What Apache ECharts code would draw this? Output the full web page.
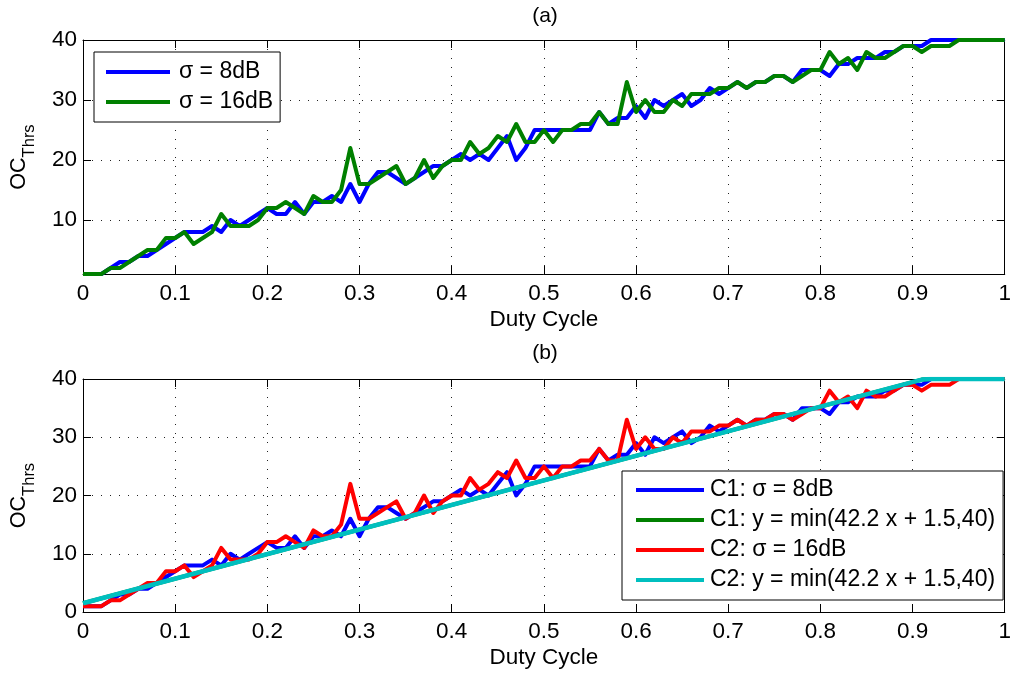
<!DOCTYPE html>
<html>
<head>
<meta charset="utf-8">
<script src="https://cdn.jsdelivr.net/npm/echarts@6/dist/echarts.min.js"></script>
<style>
html,body{margin:0;padding:0;background:#fff;}
#c{width:1014px;height:673px;}
</style>
</head>
<body>
<div id="c"></div>
<script>
// ---- data ----
var duty = [];
for (var i = 0; i <= 100; i++) duty.push(i / 100);

var sigma8 = [1,1,1,2,3,3,4,4,5,6,
  7,8,8,8,9,8,10,9,10,11,
  12,11,11,13,11,13,13,14,13,16,
  13,16,18,18,17,16,17,18,19,19,
  20,21,20,21,20,22,24,20,22,25,
  25,25,25,25,25,25,28,26,27,27,
  29,27,30,29,30,31,29,30,32,31,
  32,33,32,33,33,34,34,33,35,35,
  35,34,36,36,37,37,37,38,38,39,
  39,39,40,40,40,40,40,40,40,40,
  40];

var sigma16 = [1,1,1,2,2,3,4,5,5,7,
  7,8,6,7,8,11,9,9,9,10,
  12,12,13,12,11,14,13,13,15,22,
  16,16,17,18,19,16,17,20,17,19,
  20,20,23,21,22,24,23,26,23,23,
  25,23,25,25,26,26,28,26,26,33,
  28,30,28,28,30,29,31,31,31,32,
  32,33,32,33,33,34,34,33,34,35,
  35,38,36,37,35,38,37,37,38,39,
  39,38,39,39,39,40,40,40,40,40,
  40];

// fit y = min(42.2 x + 1.5, 40), breakpoints
var fitX = [0, 0.91, 0.92, 1];
var fitY = [1.5, 39.9, 40, 40];

var xTicks = [0,0.1,0.2,0.3,0.4,0.5,0.6,0.7,0.8,0.9,1];
var yTicksA = [10,20,30,40];
var yTicksB = [0,10,20,30,40];

var namesA = ['\u03c3 = 8dB', '\u03c3 = 16dB'];
var namesB = ['C1: \u03c3 = 8dB', 'C1: y = min(42.2 x + 1.5,40)', 'C2: \u03c3 = 16dB', 'C2: y = min(42.2 x + 1.5,40)'];

function pairs(xs, ys) { return xs.map(function (x, k) { return [x, ys[k]]; }); }

// ---- chart ----
var FONT = 'Liberation Sans, Arial, Helvetica, sans-serif';
var FS = 22.5;
var LFS = 23;
var dotted = { color: '#222', width: 1, type: [1, 8] };

function xAxisMain(grid) {
  return {
    type: 'value', gridIndex: grid, min: 0, max: 1, interval: 0.1,
    name: 'Duty Cycle', nameLocation: 'middle', nameGap: 34,
    nameTextStyle: { color: '#000', fontSize: FS, fontFamily: FONT },
    axisLine: { show: true, onZero: false, lineStyle: { color: '#000', width: 1 } },
    axisTick: { show: true, inside: true, length: 8, lineStyle: { color: '#000' } },
    axisLabel: { color: '#000', fontSize: FS, fontFamily: FONT, margin: 8,
      formatter: function (v) { return String(Math.round(v * 10) / 10); } },
    splitLine: { show: true, lineStyle: dotted }
  };
}
function xAxisMirror(grid) {
  return {
    type: 'value', gridIndex: grid, min: 0, max: 1, interval: 0.1, position: 'top',
    axisLine: { show: true, onZero: false, lineStyle: { color: '#000', width: 1 } },
    axisTick: { show: true, inside: true, length: 8, lineStyle: { color: '#000' } },
    axisLabel: { show: false }, splitLine: { show: false }
  };
}
var yName = '{a|OC}{b|Thrs}';
var yNameStyle = {
  color: '#000', fontFamily: FONT,
  rich: {
    a: { fontSize: 21.5, fontFamily: FONT, color: '#000', lineHeight: 30, verticalAlign: 'top' },
    b: { fontSize: 16.5, fontFamily: FONT, color: '#000', lineHeight: 30, verticalAlign: 'bottom' }
  }
};
function yAxisMain(grid, min, ticks) {
  return {
    type: 'value', gridIndex: grid, min: min, max: 40,
    name: yName, nameLocation: 'middle', nameRotate: 90, nameGap: 45, nameTextStyle: yNameStyle,
    axisLine: { show: true, onZero: false, lineStyle: { color: '#000', width: 1 } },
    axisTick: { show: true, inside: true, length: 8, customValues: ticks, lineStyle: { color: '#000' } },
    axisLabel: { color: '#000', fontSize: FS, fontFamily: FONT, margin: 6, customValues: ticks },
    splitLine: { show: true, lineStyle: dotted }
  };
}
function yAxisMirror(grid, min, ticks) {
  return {
    type: 'value', gridIndex: grid, min: min, max: 40, position: 'right',
    axisLine: { show: true, onZero: false, lineStyle: { color: '#000', width: 1 } },
    axisTick: { show: true, inside: true, length: 8, customValues: ticks, lineStyle: { color: '#000' } },
    axisLabel: { show: false }, splitLine: { show: false }
  };
}

function line(name, xi, yi, data, color, w, z) {
  return {
    name: name, type: 'line', xAxisIndex: xi, yAxisIndex: yi, data: data,
    showSymbol: false, symbol: 'none', animation: false, z: z || 2,
    lineStyle: { color: color, width: w || 4, join: 'round' }, itemStyle: { color: color }
  };
}

var option = {
  backgroundColor: '#fff',
  animation: false,
  grid: [
    { left: 83, top: 40, width: 925, height: 234, containLabel: false },
    { left: 83, top: 379, width: 925, height: 233, containLabel: false }
  ],
  xAxis: [xAxisMain(0), xAxisMirror(0), xAxisMain(1), xAxisMirror(1)],
  yAxis: [yAxisMain(0, 1, yTicksA), yAxisMirror(0, 1, yTicksA), yAxisMain(1, 0, yTicksB), yAxisMirror(1, 0, yTicksB)],
  graphic: [
    { type: 'text', style: { text: '(a)', x: 545, y: 16, textAlign: 'center', textVerticalAlign: 'middle', fontSize: 21, fontFamily: FONT, fill: '#000' } },
    { type: 'text', style: { text: '(b)', x: 545, y: 353, textAlign: 'center', textVerticalAlign: 'middle', fontSize: 21, fontFamily: FONT, fill: '#000' } }
  ],
  legend: [
    {
      data: namesA, orient: 'vertical', left: 94, top: 52,
      icon: 'rect', itemWidth: 64, itemHeight: 4, itemGap: 6,
      padding: [8, 7, 8, 12], borderColor: '#000', borderWidth: 1, backgroundColor: '#fff',
      textStyle: { color: '#000', fontSize: LFS, fontFamily: FONT, lineHeight: 24, padding: [0, 0, 0, 4] },
      selectedMode: false, z: 10
    },
    {
      data: namesB, orient: 'vertical', left: 622, top: 471,
      icon: 'rect', itemWidth: 68, itemHeight: 4, itemGap: 6,
      padding: [7, 8, 8, 14], borderColor: '#000', borderWidth: 1, backgroundColor: '#fff',
      textStyle: { color: '#000', fontSize: LFS, fontFamily: FONT, lineHeight: 24, padding: [0, 0, 0, 1] },
      selectedMode: false, z: 10
    }
  ],
  series: [
    line(namesA[0], 0, 0, pairs(duty, sigma8), '#0000ff'),
    line(namesA[1], 0, 0, pairs(duty, sigma16), '#008000'),
    line(namesB[0], 2, 2, pairs(duty, sigma8), '#0000ff'),
    line(namesB[1], 2, 2, pairs(fitX, fitY), '#008000'),
    line(namesB[2], 2, 2, pairs(duty, sigma16), '#ff0000'),
    line(namesB[3], 2, 2, pairs(fitX, fitY), '#00bfbf', 4.5)
  ]
};

var chart = echarts.init(document.getElementById('c'), null, { renderer: 'canvas' });
chart.setOption(option);
</script>
</body>
</html>
